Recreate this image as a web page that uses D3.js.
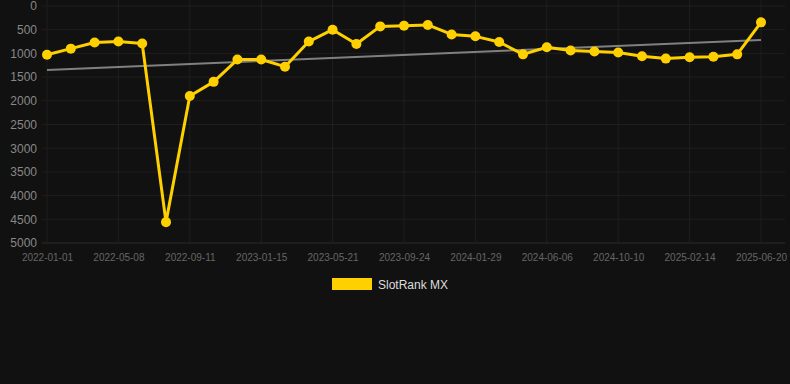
<!DOCTYPE html>
<html><head><meta charset="utf-8">
<script src="https://cdn.jsdelivr.net/npm/d3@7/dist/d3.min.js"></script>
<style>html,body{margin:0;padding:0;background:#111111;}svg{display:block;}</style>
</head><body>
<svg id="c" width="790" height="384"></svg>
<script>
const tickLabels = ["2022-01-01","2022-05-08","2022-09-11","2023-01-15","2023-05-21","2023-09-24","2024-01-29","2024-06-06","2024-10-10","2025-02-14","2025-06-20"];
const rankValues = [1030,900,770,750,790,4560,1900,1600,1130,1130,1280,750,500,800,430,415,400,600,640,760,1020,870,940,960,980,1060,1110,1080,1070,1020,345];
const trendValues = [1350,715];
const yTicks = [0,500,1000,1500,2000,2500,3000,3500,4000,4500,5000];
const seriesName = "SlotRank MX";

(function(){
const svg = d3.select("#c");
const W = 790, H = 384;
svg.append("rect").attr("width",W).attr("height",H).attr("fill","#111111");
const pL = 47, pR = 761, pT = 6, pB = 243;
const n = rankValues.length;
const x = d3.scaleLinear().domain([0,n-1]).range([pL,pR]);
const y = d3.scaleLinear().domain([0,5000]).range([pT,pB]);
const tickIdx = tickLabels.map((d,i)=>i*(n-1)/(tickLabels.length-1));

// grid
const g = svg.append("g");
g.selectAll("line.h").data(yTicks).join("line")
  .attr("x1",pL-5).attr("x2",pR+24).attr("y1",d=>y(d)).attr("y2",d=>y(d))
  .attr("stroke",d=>d===5000?"#2c2c2c":"#1f1f1f").attr("stroke-width",1);
g.selectAll("line.v").data(tickIdx).join("line")
  .attr("x1",d=>x(d)).attr("x2",d=>x(d)).attr("y1",0).attr("y2",pB)
  .attr("stroke","#1f1f1f").attr("stroke-width",1);

// y axis labels
const yAxis = d3.axisLeft(y).tickValues(yTicks).tickFormat(d3.format("d")).tickSize(0).tickPadding(0);
const ya = svg.append("g").attr("transform",`translate(37,0)`).call(yAxis);
ya.select(".domain").remove();
ya.selectAll("text").attr("fill","#888888").attr("font-size","12px").attr("font-family","Liberation Sans, Arial, sans-serif");

// x axis labels
const xAxis = d3.axisBottom(x).tickValues(tickIdx).tickFormat((d,i)=>tickLabels[i]).tickSize(0).tickPadding(0);
const xa = svg.append("g").attr("transform",`translate(0,${pB+11})`).call(xAxis);
xa.select(".domain").remove();
xa.selectAll("text").attr("fill","#666666").attr("font-size","10px").attr("font-family","Liberation Sans, Arial, sans-serif");

// trend
svg.append("line")
  .attr("x1",x(0)).attr("x2",x(n-1)).attr("y1",y(trendValues[0])).attr("y2",y(trendValues[1]))
  .attr("stroke","#808080").attr("stroke-width",2);

// line
const line = d3.line().x((d,i)=>x(i)).y(d=>y(d));
svg.append("path").datum(rankValues).attr("d",line)
  .attr("fill","none").attr("stroke","#FFD000").attr("stroke-width",3).attr("stroke-linejoin","round");
svg.selectAll("circle.p").data(rankValues).join("circle")
  .attr("cx",(d,i)=>x(i)).attr("cy",d=>y(d)).attr("r",5).attr("fill","#FFD000");

// legend
svg.append("rect").attr("x",332).attr("y",278).attr("width",40).attr("height",12).attr("fill","#FFD000");
svg.append("text").attr("x",378).attr("y",289).text(seriesName)
  .attr("fill","#dddddd").attr("font-size","12px").attr("font-family","Liberation Sans, Arial, sans-serif");
})();
</script>
</body></html>
